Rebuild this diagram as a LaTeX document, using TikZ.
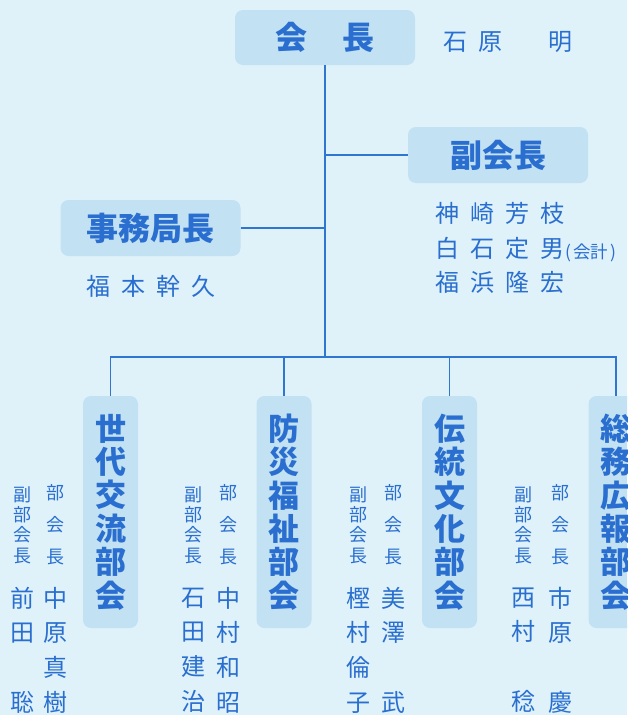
\documentclass[tikz,border=0pt]{standalone}
\usepackage{fontspec}
\setmainfont{Noto Sans CJK JP}
\definecolor{bg}{HTML}{DFF2FA}
\definecolor{boxc}{HTML}{C2E1F3}
\definecolor{ink}{HTML}{2A6FCF}
\definecolor{lin}{HTML}{2F76D0}
\newcommand\cc[1]{\makebox[35pt]{#1}}
\begin{document}
\begin{tikzpicture}[x=1pt,y=-1pt,
 head/.style={fill=boxc, rounded corners=8pt, text=ink, font=\bfseries\fontsize{32}{34}\selectfont, inner sep=0pt},
 colbox/.style={head, minimum width=55pt, minimum height=232pt, align=center, font=\bfseries\fontsize{31}{33.4}\selectfont},
 wide/.style={head, minimum width=180pt, minimum height=56pt},
 nm/.style={text=ink, font=\fontsize{24}{26}\selectfont, inner sep=0pt},
 vnm/.style={nm, align=center, font=\fontsize{24}{34.7}\selectfont},
 lbl/.style={nm, align=center, font=\fontsize{18}{20.3}\selectfont},
 lblb/.style={nm, align=center, font=\fontsize{18}{32}\selectfont},
 conn/.style={draw=lin, line width=1.5pt}
]
\fill[bg] (0,0) rectangle (627,715);
\useasboundingbox (0,0) rectangle (627,715);
\clip (0,0) rectangle (627,715);

% top boxes
\node[wide, minimum height=55pt] (kaicho) at (325,37.5) {会\hspace{35pt}長};
\node[wide] (fuku) at (498,155) {副会長};
\node[wide] (jimu) at (150.5,228) {事務局長};

% names
\node[nm, anchor=west] (n0) at (437.5,42) {\cc{石}\cc{原}\cc{}\cc{明}};
\node[nm, anchor=west] (n1) at (429.5,213) {\cc{神}\cc{崎}\cc{芳}\cc{枝}};
\node[nm, anchor=west] (n2) at (429.5,248) {\cc{白}\cc{石}\cc{定}\cc{男}};
\node[nm, anchor=west, font=\fontsize{17.5}{18}\selectfont] (kaikei) at (565,253) {(\hspace{2pt}会計\hspace{2pt})};
\node[nm, anchor=west] (n3) at (429.5,282) {\cc{福}\cc{浜}\cc{隆}\cc{宏}};
\node[nm, anchor=west] (n4) at (80.5,286) {\cc{福}\cc{本}\cc{幹}\cc{久}};

% column boxes
\node[colbox] (c1) at (110.5,512) {世\\代\\交\\流\\部\\会};
\node[colbox] (c2) at (284,512) {防\\災\\福\\祉\\部\\会};
\node[colbox] (c3) at (449.5,512) {伝\\統\\文\\化\\部\\会};
\node[colbox] (c4) at (616,512) {総\\務\\広\\報\\部\\会};

% sub labels
\node[lbl] (f1) at (22,525) {副\\部\\会\\長};
\node[lblb] (b1) at (55,525) {部\\会\\長};
\node[lbl] (f2) at (193,525) {副\\部\\会\\長};
\node[lblb] (b2) at (228,525) {部\\会\\長};
\node[lbl] (f3) at (358,525) {副\\部\\会\\長};
\node[lblb] (b3) at (393,525) {部\\会\\長};
\node[lbl] (f4) at (523,525) {副\\部\\会\\長};
\node[lblb] (b4) at (560,525) {部\\会\\長};

% column names
\node[vnm] (m1) at (22,650) {前\\田\\\phantom{田}\\聡};
\node[vnm] (p1) at (55,650) {中\\原\\真\\樹};
\node[vnm] (m2) at (193,650) {石\\田\\建\\治};
\node[vnm] (p2) at (228,650) {中\\村\\和\\昭};
\node[vnm] (m3) at (358,650) {樫\\村\\倫\\子};
\node[vnm] (p3) at (393,650) {美\\澤\\\phantom{澤}\\武};
\node[vnm] (m4) at (523,650) {西\\村\\\phantom{村}\\稔};
\node[vnm] (p4) at (560,650) {市\\原\\\phantom{原}\\慶};

% connectors
\coordinate (bar) at (325,357);
\draw[conn] (kaicho.south) -- (bar);
\draw[conn] (kaicho.south |- fuku.west) -- (fuku.west);
\draw[conn] (jimu.east) -- (kaicho.south |- jimu.east);
\draw[conn] (c1.north) |- (bar) -| (c4.north);
\draw[conn] (c2.north |- bar) -- (c2.north);
\draw[conn] (c3.north |- bar) -- (c3.north);
\end{tikzpicture}
\end{document}
